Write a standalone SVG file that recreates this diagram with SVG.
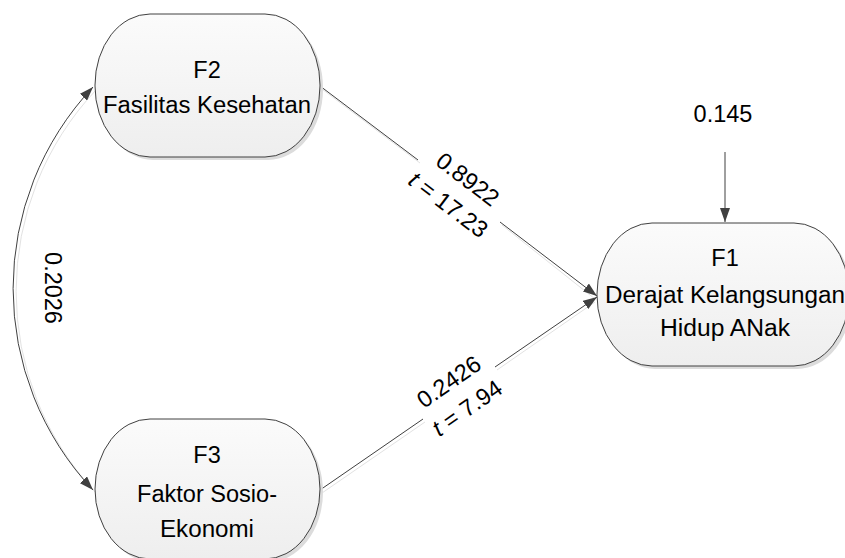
<svg xmlns="http://www.w3.org/2000/svg" width="845" height="558" viewBox="0 0 845 558">
<defs>
<linearGradient id="g" x1="0" y1="0" x2="0" y2="1">
<stop offset="0" stop-color="#fbfbfb"/>
<stop offset="1" stop-color="#eeeeee"/>
</linearGradient>
<marker id="ah" viewBox="0 0 14 10" refX="14" refY="5" markerWidth="14" markerHeight="10" markerUnits="userSpaceOnUse" orient="auto">
<path d="M0,0 L14,5 L0,10 Z" fill="#404040"/>
</marker>
<marker id="as" viewBox="0 0 14 10" refX="14" refY="5" markerWidth="14" markerHeight="10" markerUnits="userSpaceOnUse" orient="auto-start-reverse">
<path d="M0,0 L14,5 L0,10 Z" fill="#404040"/>
</marker>
</defs>
<style>
.node{fill:url(#g);stroke:#404040;stroke-width:1}
.shadow{fill:#dcdcdc;stroke:none}
.t{font-family:"Liberation Sans",Arial,sans-serif;font-size:23.5px;fill:#000;text-anchor:middle}
.edge{fill:none;stroke:#404040;stroke-width:1}
.eshadow{fill:none;stroke:#e2e2e2;stroke-width:1}
</style>
<rect width="845" height="558" fill="#fff"/>
<g id="connectors">
<path class="eshadow" d="M322,89 L420,163 M502,225 L595,299"/>
<path class="eshadow" d="M322,493 L425,422 M497,370 L595,302"/>
<path class="eshadow" d="M96,90 A294,294 0 0 0 96,493"/>
<path class="edge" d="M320,86 L418,160 M500,222 L597,296" marker-end="url(#ah)"/>
<path class="edge" d="M320,490 L423,419 M495,367 L597,297" marker-end="url(#ah)"/>
<path class="edge" d="M93,87 A294,294 0 0 0 93,490" marker-start="url(#as)" marker-end="url(#ah)"/>
<path class="edge" d="M725,152 L725,222" marker-end="url(#ah)"/>
<text class="t" transform="translate(458,192) rotate(37.2)"><tspan x="0" y="-8">0.8922</tspan><tspan x="0" y="24"><tspan font-style="italic">t</tspan> = 17.23</tspan></text>
<text class="t" transform="translate(458,395) rotate(-34.9)"><tspan x="0" y="-8">0.2426</tspan><tspan x="0" y="24"><tspan font-style="italic">t</tspan> = 7.94</tspan></text>
<text class="t" transform="translate(45,288) rotate(90)">0.2026</text>
<text class="t" x="723" y="122">0.145</text>
</g>
<g id="F2">
<rect class="shadow" x="98" y="17" width="225" height="143" rx="55" ry="71"/>
<rect class="node" x="95" y="14" width="225" height="143" rx="55" ry="71"/>
<text class="t" x="207" y="78">F2</text>
<text class="t" x="207" y="113" textLength="208" lengthAdjust="spacingAndGlyphs">Fasilitas Kesehatan</text>
</g>
<g id="F3">
<rect class="shadow" x="98" y="422" width="225" height="140" rx="55" ry="70"/>
<rect class="node" x="95" y="419" width="225" height="140" rx="55" ry="70"/>
<text class="t" x="207" y="463">F3</text>
<text class="t" x="207" y="502" textLength="140" lengthAdjust="spacingAndGlyphs">Faktor Sosio-</text>
<text class="t" x="207" y="537" textLength="94" lengthAdjust="spacingAndGlyphs">Ekonomi</text>
</g>
<g id="F1">
<rect class="shadow" x="600" y="226" width="252" height="143" rx="55" ry="71"/>
<rect class="node" x="597" y="223" width="252" height="143" rx="55" ry="71"/>
<text class="t" x="725" y="266">F1</text>
<text class="t" x="725" y="303" textLength="240" lengthAdjust="spacingAndGlyphs">Derajat Kelangsungan</text>
<text class="t" x="725" y="336" textLength="130" lengthAdjust="spacingAndGlyphs">Hidup ANak</text>
</g>
</svg>
